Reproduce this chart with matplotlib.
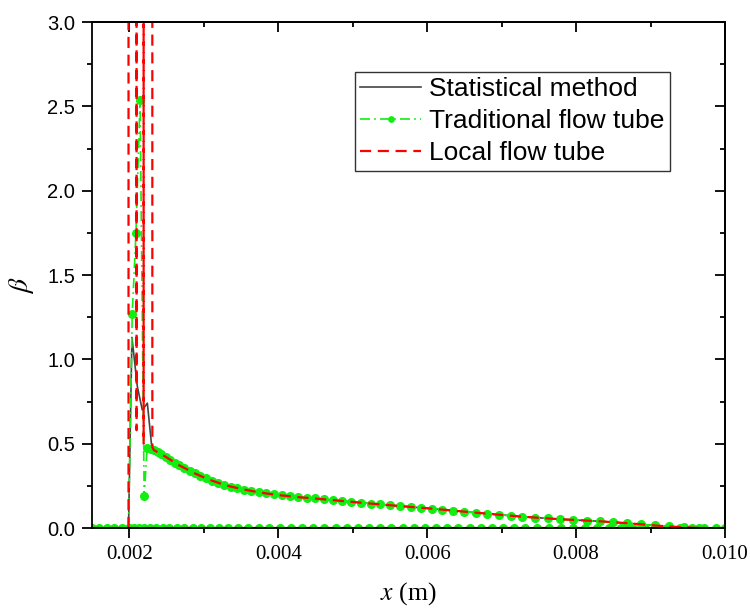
import numpy as np
import matplotlib.pyplot as plt
from matplotlib.ticker import MultipleLocator

plt.rcParams['mathtext.fontset'] = 'stix'

# x positions are in units of 1e-3 m, scaled when plotted
# lower branch lying on beta = 0 (shared by all three methods)
x_wall = [1.50, 1.60, 1.70, 1.80, 1.90, 1.99, 2.06, 2.13, 2.20, 2.28, 2.36, 2.45,
          2.54, 2.64, 2.74, 2.85, 2.96, 3.08, 3.20, 3.33, 3.46, 3.60, 3.74, 3.88,
          4.02, 4.17, 4.32, 4.47, 4.62, 4.77, 4.92, 5.07, 5.22, 5.37, 5.52, 5.67,
          5.82, 5.97, 6.12, 6.27, 6.42, 6.57, 6.72, 6.87, 7.02, 7.17, 7.32, 7.48,
          7.64, 7.80, 7.96, 8.12, 8.28, 8.44, 8.60, 8.76, 8.92, 9.08, 9.24, 9.40,
          9.56, 9.72, 9.88, 10.0]
beta_wall = [0.0] * len(x_wall)

# common decaying part downstream of the peak
x_tail = [2.33, 2.38, 2.43, 2.49, 2.55, 2.61, 2.67, 2.74, 2.81, 2.88, 2.95, 3.03,
          3.11, 3.19, 3.27, 3.36, 3.45, 3.54, 3.64, 3.74, 3.84, 3.94, 4.05, 4.16,
          4.27, 4.38, 4.50, 4.62, 4.74, 4.86, 4.98, 5.11, 5.24, 5.37, 5.50, 5.64,
          5.78, 5.92, 6.06, 6.20, 6.35, 6.50, 6.65, 6.80, 6.96, 7.12, 7.28, 7.45,
          7.62, 7.79, 7.96, 8.14, 8.32, 8.50, 8.68, 8.87, 9.06, 9.25, 9.45, 9.65]
beta_tail = [0.462, 0.450, 0.437, 0.422, 0.405, 0.388, 0.372, 0.356, 0.340, 0.324,
             0.310, 0.295, 0.281, 0.269, 0.257, 0.246, 0.237, 0.228, 0.220, 0.212,
             0.205, 0.199, 0.193, 0.188, 0.183, 0.179, 0.175, 0.170, 0.165, 0.160,
             0.155, 0.150, 0.145, 0.140, 0.135, 0.130, 0.125, 0.120, 0.115, 0.109,
             0.103, 0.097, 0.091, 0.085, 0.079, 0.073, 0.067, 0.062, 0.057, 0.052,
             0.048, 0.044, 0.040, 0.034, 0.029, 0.022, 0.015, 0.009, 0.004, 0.0]

# leading-edge behaviour of each method
x_stat = [1.99, 2.036, 2.108, 2.175, 2.243, 2.30]
beta_stat = [0.0, 1.13, 0.84, 0.70, 0.74, 0.49]

x_trad = [1.99, 2.04, 2.09, 2.145, 2.20, 2.24, 2.29]
beta_trad = [0.0, 1.27, 1.75, 2.54, 0.19, 0.475, 0.47]

x_local = [1.99, 1.991, 2.098, 2.100, 2.193, 2.195, 2.31]
beta_local = [0.0, 1000.0, 0.58, 1000.0, 0.50, 1000.0, 0.48]


def series(x_head, b_head):
    x = x_wall + [np.nan] + x_head + x_tail
    b = beta_wall + [np.nan] + b_head + beta_tail
    return np.array(x) * 1e-3, np.array(b)


fig = plt.figure(figsize=(7.5, 6.1), dpi=100)
ax = fig.add_axes([0.1227, 0.1344, 0.8440, 0.8295])

x, b = series(x_stat, beta_stat)
ax.plot(x, b, color='#444444', lw=1.2, label='Statistical method')
x, b = series(x_trad, beta_trad)
ax.plot(x, b, color='#11ee11', lw=1.2, ls=(0, (6, 2.5, 1, 2.5)),
        marker='o', ms=5.5, mec='#11ee11', label='Traditional flow tube')
x, b = series(x_local, beta_local)
ax.plot(x, b, color='#ff0000', lw=1.6, ls=(0, (5, 3)), label='Local flow tube')

ax.set_xlim(0.0015, 0.010)
ax.set_ylim(0, 3.0)
ax.xaxis.set_major_locator(MultipleLocator(0.002))
ax.xaxis.set_minor_locator(MultipleLocator(0.001))
ax.yaxis.set_major_locator(MultipleLocator(0.5))
ax.yaxis.set_minor_locator(MultipleLocator(0.25))
ax.xaxis.set_major_formatter(plt.FuncFormatter(lambda v, p: f'{v:.3f}'))
ax.yaxis.set_major_formatter(plt.FuncFormatter(lambda v, p: f'{v:.1f}'))

for s in ax.spines.values():
    s.set_linewidth(1.3)
ax.tick_params(which='major', direction='out', length=7, width=1.3, pad=5)
ax.tick_params(which='minor', direction='out', length=3.5, width=1.3)
for lab in ax.get_xticklabels():
    lab.set_fontfamily('Liberation Serif')
    lab.set_fontsize(15)
for lab in ax.get_yticklabels():
    lab.set_fontfamily('Liberation Sans')
    lab.set_fontsize(14.5)

# mirrored inward ticks on the top and right edges
top = ax.secondary_xaxis('top')
top.xaxis.set_major_locator(MultipleLocator(0.002))
top.xaxis.set_minor_locator(MultipleLocator(0.001))
top.tick_params(which='major', direction='in', length=7, width=1.3, labeltop=False)
top.tick_params(which='minor', direction='in', length=3.5, width=1.3)
top.spines['top'].set_linewidth(1.3)
right = ax.secondary_yaxis('right')
right.yaxis.set_major_locator(MultipleLocator(0.5))
right.yaxis.set_minor_locator(MultipleLocator(0.25))
right.tick_params(which='major', direction='in', length=7, width=1.3, labelright=False)
right.tick_params(which='minor', direction='in', length=3.5, width=1.3)
right.spines['right'].set_linewidth(1.3)

ax.set_xlabel(r'$x$ (m)', fontfamily='Liberation Serif', fontsize=18.5, labelpad=12)
ax.set_ylabel(r'$\beta$', fontsize=20)
ax.yaxis.set_label_coords(-0.088, 0.48)

leg = ax.legend(loc='upper left', bbox_to_anchor=(0.4155, 0.901), borderaxespad=0,
                prop={'family': 'Liberation Sans', 'size': 19}, frameon=True,
                fancybox=False, edgecolor='#333333', framealpha=1,
                handlelength=2.3, handletextpad=0.3, labelspacing=0.3,
                borderpad=0.2, markerscale=0.7)
leg.get_frame().set_linewidth(1.0)

fig.savefig('out.png', dpi=100)
